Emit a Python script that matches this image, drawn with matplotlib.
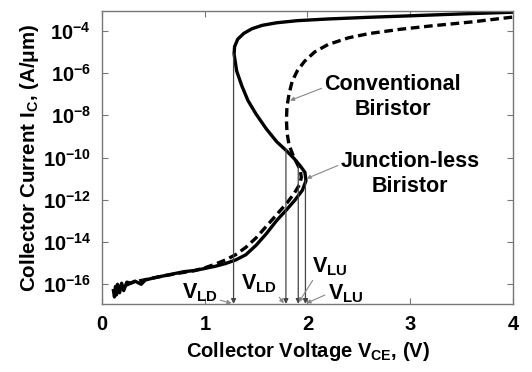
import numpy as np
import matplotlib
matplotlib.use("Agg")
import matplotlib.pyplot as plt

plt.rcParams['font.family'] = ['Liberation Sans', 'DejaVu Sans']
plt.rcParams['font.weight'] = 'bold'
plt.rcParams['mathtext.fontset'] = 'custom'
plt.rcParams['mathtext.rm'] = 'Liberation Sans:bold'
plt.rcParams['mathtext.bf'] = 'Liberation Sans:bold'
plt.rcParams['mathtext.it'] = 'Liberation Sans:bold'

# Junction-less biristor (solid), path along the S-curve: V_CE (V), log10(I_C)
jl_v = [0.11, 0.12, 0.13, 0.14, 0.15, 0.17, 0.19, 0.21, 0.24, 0.28, 0.32, 0.38,
        0.42, 0.5, 0.6, 0.7, 0.8, 0.9, 1.0, 1.1, 1.2, 1.3, 1.4, 1.5, 1.6, 1.7,
        1.8, 1.88, 1.95, 1.985, 1.975, 1.93, 1.87, 1.8, 1.7, 1.6, 1.5, 1.42,
        1.36, 1.31, 1.285, 1.29, 1.32, 1.38, 1.46, 1.56, 1.7, 1.9, 2.2, 2.6,
        3.0, 3.5, 4.0]
jl_log_i = [-16.3, -16.6, -16.1, -16.5, -16.0, -16.4, -15.95, -16.3, -15.9,
            -15.95, -15.85, -16.0, -15.8, -15.7, -15.6, -15.5, -15.4, -15.35,
            -15.25, -15.15, -15.02, -14.85, -14.6, -14.15, -13.6, -12.98,
            -12.45, -12.0, -11.55, -11.1, -10.7, -10.4, -10.05, -9.7, -9.25,
            -8.65, -7.95, -7.3, -6.6, -5.9, -5.1, -4.75, -4.4, -4.12, -3.9,
            -3.74, -3.62, -3.52, -3.44, -3.36, -3.29, -3.2, -3.12]

# Conventional biristor (dashed)
cv_v = [0.12, 0.3, 0.6, 0.9, 1.0, 1.1, 1.2, 1.3, 1.4, 1.5, 1.6, 1.7, 1.8, 1.87,
        1.92, 1.94, 1.93, 1.9, 1.86, 1.82, 1.8, 1.795, 1.8, 1.82, 1.85, 1.9,
        1.97, 2.07, 2.2, 2.4, 2.6, 2.9, 3.2, 3.6, 4.0]
cv_log_i = [-16.3, -15.9, -15.6, -15.35, -15.22, -15.05, -14.85, -14.6, -14.25,
            -13.8, -13.25, -12.7, -12.15, -11.7, -11.3, -10.95, -10.6, -10.3,
            -9.9, -9.4, -8.8, -8.2, -7.6, -7.0, -6.4, -5.9, -5.45, -5.0, -4.65,
            -4.33, -4.13, -3.93, -3.77, -3.58, -3.35]

# latch voltages: x position and log10(I) where the guide line starts
latch_v = [1.28, 1.79, 1.91, 1.98]
latch_top = [-5.1, -9.6, -10.4, -11.1]

y_exponents = [-4, -6, -8, -10, -12, -14, -16]
x_ticks = [0, 1, 2, 3, 4]
y_min, y_max = 10**-16.93, 10**-3.07

fig = plt.figure(figsize=(5.32, 3.72), dpi=100)
ax = fig.add_axes([0.192, 0.183, 0.772, 0.787])

ax.plot(jl_v, 10**np.array(jl_log_i), color='black', lw=2.4, solid_joinstyle='round')
ax.plot(cv_v, 10**np.array(cv_log_i), color='black', lw=2.4, dashes=(2.6, 1.4))

for v, top in zip(latch_v, latch_top):
    ax.annotate('', xy=(v, y_min), xytext=(v, 10**top),
                arrowprops=dict(arrowstyle='-|>', color='#444444', lw=0.9,
                                mutation_scale=7, shrinkA=0, shrinkB=0))

arrow_kw = dict(arrowstyle='-|>', color='#888888', lw=0.8, mutation_scale=6,
                shrinkA=0, shrinkB=0)
fs = 15.5
ax.annotate(r'V$_{\mathbf{LD}}$', xy=(1.26, 10**-16.9), xytext=(0.95, 10**-16.4),
            ha='center', va='center', fontsize=fs, fontweight='bold',
            arrowprops=dict(arrow_kw, relpos=(1.0, 0.2)))
ax.annotate(r'V$_{\mathbf{LD}}$', xy=(1.77, 10**-16.9), xytext=(1.53, 10**-15.95),
            ha='center', va='center', fontsize=fs, fontweight='bold',
            arrowprops=dict(arrow_kw, relpos=(0.95, 0.1)))
ax.annotate(r'V$_{\mathbf{LU}}$', xy=(1.915, 10**-16.85), xytext=(2.22, 10**-15.15),
            ha='center', va='center', fontsize=fs, fontweight='bold',
            arrowprops=dict(arrow_kw, relpos=(0.1, 0.1)))
ax.annotate(r'V$_{\mathbf{LU}}$', xy=(1.99, 10**-16.9), xytext=(2.37, 10**-16.45),
            ha='center', va='center', fontsize=fs, fontweight='bold',
            arrowprops=dict(arrow_kw, relpos=(0.0, 0.5)))

ax.annotate('Conventional\nBiristor', xy=(1.83, 10**-7.3), xytext=(2.83, 10**-7.15),
            ha='center', va='center', fontsize=fs, fontweight='bold',
            linespacing=1.25,
            arrowprops=dict(arrow_kw, relpos=(0.0, 0.72)))
ax.annotate('Junction-less\nBiristor', xy=(1.99, 10**-11.0), xytext=(3.0, 10**-10.8),
            ha='center', va='center', fontsize=fs, fontweight='bold',
            linespacing=1.25,
            arrowprops=dict(arrow_kw, relpos=(0.0, 0.72)))

ax.set_yscale('log')
ax.set_xlim(0, 4)
ax.set_ylim(y_min, y_max)
ax.set_xticks(x_ticks)
ax.set_xticklabels([str(t) for t in x_ticks])
ax.set_yticks([10.0**e for e in y_exponents])
ax.set_yticklabels([r'$\mathbf{10^{%d}}$' % e for e in y_exponents])
ax.minorticks_off()
ax.tick_params(direction='in', length=4, width=0.8, color='#777777',
               top=True, right=True, labelsize=14.5, pad=8)
for lab in ax.get_xticklabels() + ax.get_yticklabels():
    lab.set_fontweight('bold')
for s in ax.spines.values():
    s.set_color('#777777')
    s.set_linewidth(1.0)

ax.set_xlabel(r'Collector Voltage V$_{\mathbf{CE}}$, (V)', fontsize=14.5,
              fontweight='bold', labelpad=4)
ax.set_ylabel(r'Collector Current I$_{\mathbf{C}}$, (A/μm)', fontsize=14.8,
              fontweight='bold', labelpad=1)

fig.savefig('out.png', dpi=100)
